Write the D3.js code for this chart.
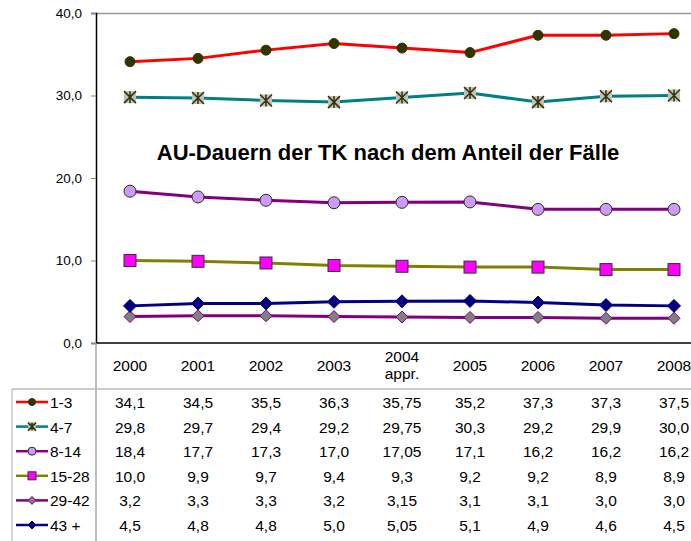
<!DOCTYPE html>
<html>
<head>
<meta charset="utf-8">
<script src="https://cdn.jsdelivr.net/npm/d3@7"></script>
<style>
body { margin: 0; background: #fff; }
text { font-family: "Liberation Sans", Arial, sans-serif; }
</style>
</head>
<body>
<svg id="chart" width="691" height="541"></svg>
<script>
// Werte aus der Tabelle unter dem Diagramm
const years = ["2000", "2001", "2002", "2003", "2004\nappr.", "2005", "2006", "2007", "2008"];
const series = [
    { name: "1-3",   line: "#ff0000", marker: "circle",  fill: "#333300", stroke: "#333300", size: 5,
      values: [34.1, 34.5, 35.5, 36.3, 35.75, 35.2, 37.3, 37.3, 37.5] },
    { name: "4-7",   line: "#008080", marker: "xsquare", fill: "#c0c0c0", stroke: "#333300", size: 6,
      values: [29.8, 29.7, 29.4, 29.2, 29.75, 30.3, 29.2, 29.9, 30.0] },
    { name: "8-14",  line: "#800080", marker: "circle",  fill: "#cc99ff", stroke: "#333300", size: 6,
      values: [18.4, 17.7, 17.3, 17.0, 17.05, 17.1, 16.2, 16.2, 16.2] },
    { name: "15-28", line: "#808000", marker: "square",  fill: "#ff00ff", stroke: "#333333", size: 6,
      values: [10.0, 9.9, 9.7, 9.4, 9.3, 9.2, 9.2, 8.9, 8.9] },
    { name: "29-42", line: "#800080", marker: "diamond", fill: "#808080", stroke: "#800080", size: 6,
      values: [3.2, 3.3, 3.3, 3.2, 3.15, 3.1, 3.1, 3.0, 3.0] },
    { name: "43 +",  line: "#000080", marker: "diamond", fill: "#000080", stroke: "#000080", size: 6.5,
      values: [4.5, 4.8, 4.8, 5.0, 5.05, 5.1, 4.9, 4.6, 4.5] }
];

const fmtCell = v => {
    let s = String(v);
    if (s.indexOf(".") < 0) s += ".0";
    return s.replace(".", ",");
};

const svg = d3.select("#chart");
const plotLeft = 96, plotTop = 13, plotBottom = 343, step = 68;
const tableFont = 15.5;

const x = d3.scaleBand()
    .domain(years)
    .range([plotLeft, plotLeft + step * years.length]);
const y = d3.scaleLinear()
    .domain([0, 40])
    .range([plotBottom, plotTop]);

// Rahmen oben (grau)
svg.append("line")
    .attr("x1", plotLeft).attr("x2", 691)
    .attr("y1", plotTop + 0.5).attr("y2", plotTop + 0.5)
    .attr("stroke", "#999").attr("stroke-width", 1.5);

// y-Achse
const yAxis = svg.append("g")
    .attr("transform", `translate(${plotLeft},0)`)
    .call(d3.axisLeft(y).tickValues([0, 10, 20, 30, 40]).tickSize(5).tickPadding(9)
        .tickFormat(d => d3.format(".1f")(d).replace(".", ",")));
yAxis.select(".domain").attr("stroke", "#000").attr("stroke-width", 1.5);
yAxis.selectAll(".tick line").attr("stroke", "#888");
yAxis.selectAll("text").attr("font-size", 13.5).attr("fill", "#000")
    .style("font-family", "Liberation Sans, Arial, sans-serif");

// x-Achse
svg.append("line")
    .attr("x1", plotLeft).attr("x2", 691)
    .attr("y1", plotBottom).attr("y2", plotBottom)
    .attr("stroke", "#000").attr("stroke-width", 1.5);

// Tabellenlinien
const rowY = d3.scalePoint()
    .domain(series.map(s => s.name))
    .range([402, 525]);
svg.append("line")
    .attr("x1", plotLeft).attr("x2", plotLeft)
    .attr("y1", plotBottom).attr("y2", 541)
    .attr("stroke", "#aaa").attr("stroke-width", 1.5);
svg.append("line")
    .attr("x1", 12).attr("x2", 691)
    .attr("y1", 389).attr("y2", 389)
    .attr("stroke", "#bbb").attr("stroke-width", 1.5);
svg.append("line")
    .attr("x1", 12).attr("x2", 12)
    .attr("y1", 389).attr("y2", 541)
    .attr("stroke", "#aaa").attr("stroke-width", 1);

// Titel
svg.append("text")
    .attr("x", 388).attr("y", 160)
    .attr("text-anchor", "middle")
    .attr("font-size", 22)
    .attr("font-weight", "bold")
    .text("AU-Dauern der TK nach dem Anteil der Fälle");

function drawMarker(g, s) {
    const r = s.size;
    if (s.marker === "circle") {
        g.append("circle").attr("r", r)
            .attr("fill", s.fill).attr("stroke", s.stroke).attr("stroke-width", 1);
    } else if (s.marker === "square" || s.marker === "xsquare") {
        g.append("rect").attr("x", -r).attr("y", -r).attr("width", 2 * r).attr("height", 2 * r)
            .attr("fill", s.fill)
            .attr("stroke", s.marker === "square" ? s.stroke : "none").attr("stroke-width", 1);
        if (s.marker === "xsquare") {
            g.append("path")
                .attr("d", `M${-r},${-r}L${r},${r}M${r},${-r}L${-r},${r}M0,${-r}L0,${r}`)
                .attr("stroke", s.stroke).attr("stroke-width", 1.5).attr("fill", "none");
        }
    } else if (s.marker === "diamond") {
        g.append("path")
            .attr("d", `M0,${-r}L${r},0L0,${r}L${-r},0Z`)
            .attr("fill", s.fill).attr("stroke", s.stroke).attr("stroke-width", 1);
    }
}

const cx = d => x(d) + x.bandwidth() / 2;
const line = d3.line()
    .x((d, i) => cx(years[i]))
    .y(d => y(d));

const plot = svg.append("g");
series.forEach(s => {
    plot.append("path")
        .datum(s.values)
        .attr("d", line)
        .attr("fill", "none")
        .attr("stroke", s.line)
        .attr("stroke-width", 3);
});
series.forEach(s => {
    s.values.forEach((v, i) => {
        const g = plot.append("g").attr("transform", `translate(${cx(years[i])},${y(v)})`);
        drawMarker(g, s);
    });
});

// Kopfzeile der Tabelle
years.forEach(yr => {
    const parts = yr.split("\n");
    const t = svg.append("text")
        .attr("x", cx(yr))
        .attr("text-anchor", "middle")
        .attr("font-size", tableFont);
    if (parts.length === 1) {
        t.attr("y", 370.5).text(yr);
    } else {
        t.append("tspan").attr("x", cx(yr)).attr("y", 362).text(parts[0]);
        t.append("tspan").attr("x", cx(yr)).attr("y", 379).text(parts[1]);
    }
});

// Zeilen mit Legende und Werten
series.forEach(s => {
    const ry = rowY(s.name);
    svg.append("line")
        .attr("x1", 16).attr("x2", 48)
        .attr("y1", ry).attr("y2", ry)
        .attr("stroke", s.line).attr("stroke-width", 2.5);
    const g = svg.append("g").attr("transform", `translate(32,${ry})`);
    drawMarker(g, Object.assign({}, s, { size: s.marker === "diamond" ? 4 : (s.marker === "circle" && s.size === 5 ? 3.5 : 4) }));
    svg.append("text")
        .attr("x", 50).attr("y", ry + 6)
        .attr("font-size", tableFont)
        .text(s.name);
    s.values.forEach((v, i) => {
        svg.append("text")
            .attr("x", cx(years[i]))
            .attr("y", ry + 6)
            .attr("text-anchor", "middle")
            .attr("font-size", tableFont)
            .text(fmtCell(v));
    });
});
</script>
</body>
</html>
